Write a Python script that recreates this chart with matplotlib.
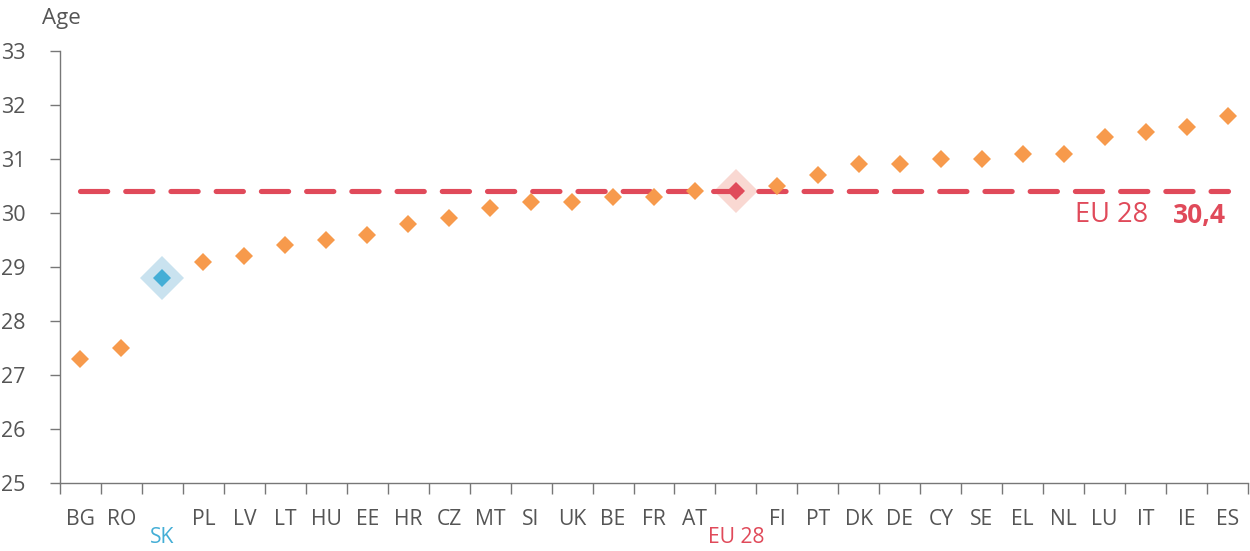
import matplotlib.pyplot as plt
import numpy as np

plt.rcParams['font.family'] = ['Open Sans', 'DejaVu Sans']

countries = ['BG', 'RO', 'SK', 'PL', 'LV', 'LT', 'HU', 'EE', 'HR', 'CZ', 'MT', 'SI', 'UK', 'BE', 'FR',
             'AT', 'EU 28', 'FI', 'PT', 'DK', 'DE', 'CY', 'SE', 'EL', 'NL', 'LU', 'IT', 'IE', 'ES']
ages = [27.3, 27.5, 28.8, 29.1, 29.2, 29.4, 29.5, 29.6, 29.8, 29.9, 30.1, 30.2, 30.2, 30.3, 30.3,
        30.4, 30.4, 30.5, 30.7, 30.9, 30.9, 31.0, 31.0, 31.1, 31.1, 31.4, 31.5, 31.6, 31.8]
eu_avg = 30.4

orange = '#f79a4c'
red = '#e04a5a'
blue = '#44aed6'
grey = '#555555'

fig = plt.figure(figsize=(12.5, 5.51), dpi=100)
ax = fig.add_axes([0.048, 0.1234, 0.9504, 0.784])

x = np.arange(len(countries))
sk = countries.index('SK')
eu = countries.index('EU 28')

# halos behind everything
ax.plot(x[sk], ages[sk], 'D', ms=22, color='#c9e2ef', mew=0, zorder=1)
ax.plot(x[eu], ages[eu], 'D', ms=22, color='#f9d8d2', mew=0, zorder=1)

# EU average dashed line, spanning first to last country
ax.plot([x[0], x[-1]], [eu_avg, eu_avg], color=red, lw=3.7, dashes=(5.3, 3.5),
        dash_capstyle='round', zorder=2)

others = [i for i in x if i not in (sk, eu)]
ax.plot(x[others], [ages[i] for i in others], 'D', ms=9.4, color=orange, mew=0, zorder=4)
ax.plot(x[sk], ages[sk], 'D', ms=9.4, color=blue, mew=0, zorder=4)
ax.plot(x[eu], ages[eu], 'D', ms=9.4, color=red, mew=0, zorder=4)

ax.set_xlim(-0.5, len(countries) - 0.5)
ax.set_ylim(25, 33)
ax.set_yticks(range(25, 34))

ax.set_xticks(x)
ax.set_xticklabels(countries)
ax.set_xticks(np.arange(len(countries) + 1) - 0.5, minor=True)
ax.tick_params(axis='x', which='major', length=0, pad=19, labelsize=15.2, labelcolor=grey)
ax.tick_params(axis='x', which='minor', length=8, width=1, color='#777777')
ax.tick_params(axis='y', length=7, width=1, color='#777777', labelsize=15.5,
               labelcolor=grey, pad=18)
for lbl in ax.get_xticklabels():
    if lbl.get_text() == 'SK':
        lbl.set_color(blue)
        lbl.set_y(-0.04)
    elif lbl.get_text() == 'EU 28':
        lbl.set_color(red)
        lbl.set_y(-0.04)

for s in ['top', 'right']:
    ax.spines[s].set_visible(False)
for s in ['left', 'bottom']:
    ax.spines[s].set_color('#777777')
    ax.spines[s].set_linewidth(1)

ax.text(-0.95, 33.6, 'Age', fontsize=16, color=grey, ha='left', va='center')
ax.text(26.06, 29.96, 'EU 28', fontsize=19.5, color=red, ha='right', va='center')
ax.text(27.97, 29.96, '30,4', fontsize=19, color=red, ha='right', va='center', fontweight='bold')

fig.savefig('out.png', dpi=100)
